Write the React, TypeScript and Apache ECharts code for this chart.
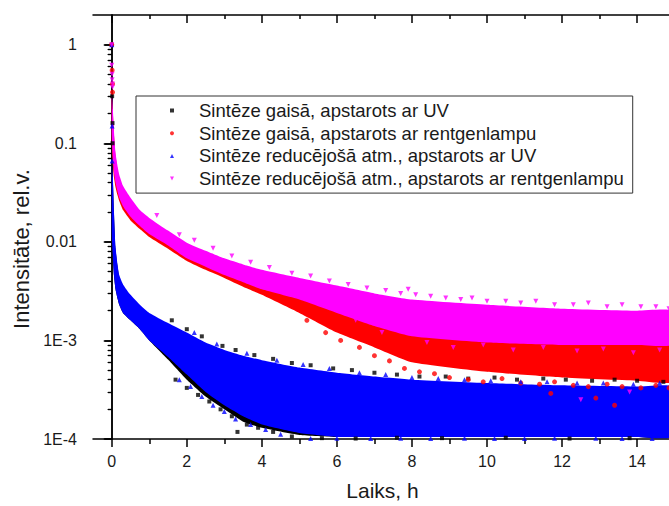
import React, { useEffect, useRef } from "react";
import * as echarts from "echarts";

const seriesNames = [
  "Sintēze gaisā, apstarots ar UV",
  "Sintēze gaisā, apstarots ar rentgenlampu",
  "Sintēze reducējošā atm., apstarots ar UV",
  "Sintēze reducējošā atm., apstarots ar rentgenlampu",
];

const xTicks = [0, 2, 4, 6, 8, 10, 12, 14];
const xMinorTicks = [1, 3, 5, 7, 9, 11, 13];
const yTicks = [1e-4, 1e-3, 1e-2, 1e-1, 1];
const yTickLabels = ["1E-4", "1E-3", "0.01", "0.1", "1"];
const yMinorTicks = [
  2e-4, 3e-4, 4e-4, 5e-4, 6e-4, 7e-4, 8e-4, 9e-4,
  2e-3, 3e-3, 4e-3, 5e-3, 6e-3, 7e-3, 8e-3, 9e-3,
  0.02, 0.03, 0.04, 0.05, 0.06, 0.07, 0.08, 0.09,
  0.2, 0.3, 0.4, 0.5, 0.6, 0.7, 0.8, 0.9,
];

// x positions (h) at which the dense core of each point cloud was read
const bandX = [0, 0.03, 0.06, 0.1, 0.15, 0.2, 0.3, 0.5, 0.75, 1, 1.5, 2, 2.5, 3, 3.5, 4, 5, 6, 7, 8, 10, 12, 14, 14.93];

// dense core of each cloud: lower / upper edge
const airUvLow = [0.012, 0.007, 0.0045, 0.0033, 0.0027, 0.0023, 0.0019, 0.0016, 0.0013, 0.001, 0.00064, 0.0004, 0.00027, 0.0002, 0.00015, 0.00013, 0.00011, 0.000105, 0.000105, 0.000105, 0.000105, 0.000105, 0.000105, 0.000105];
const airUvHigh = [0.055, 0.042, 0.019, 0.0085, 0.0058, 0.0044, 0.0035, 0.0028, 0.0022, 0.0018, 0.00145, 0.00116, 0.00092, 0.00078, 0.00068, 0.00061, 0.00051, 0.00045, 0.00041, 0.00039, 0.00035, 0.00034, 0.00033, 0.00033];

const airXrLow = [0.1, 0.06, 0.045, 0.036, 0.03, 0.026, 0.021, 0.0165, 0.0135, 0.0112, 0.0085, 0.0064, 0.0052, 0.0043, 0.0035, 0.0029, 0.0019, 0.0012, 0.00085, 0.0006, 0.00048, 0.00042, 0.00039, 0.00038];
const airXrHigh = [0.3, 0.2, 0.12, 0.075, 0.055, 0.045, 0.035, 0.026, 0.02, 0.0165, 0.0125, 0.0095, 0.0078, 0.0065, 0.0056, 0.005, 0.0041, 0.0033, 0.0028, 0.0024, 0.002, 0.0018, 0.0017, 0.0017];

const redUvLow = [0.012, 0.007, 0.0045, 0.0033, 0.0027, 0.0023, 0.0019, 0.0016, 0.0013, 0.001, 0.00068, 0.00045, 0.0003, 0.00022, 0.00017, 0.00014, 0.000115, 0.000105, 0.000105, 0.000105, 0.000105, 0.000105, 0.000105, 0.000105];
const redUvHigh = [0.06, 0.045, 0.02, 0.009, 0.006, 0.0046, 0.0037, 0.0029, 0.0023, 0.0019, 0.0015, 0.0012, 0.00095, 0.0008, 0.0007, 0.00063, 0.00053, 0.00047, 0.00043, 0.0004, 0.00037, 0.00035, 0.00034, 0.00034];

const redXrLow = [0.12, 0.07, 0.05, 0.04, 0.033, 0.028, 0.023, 0.018, 0.0145, 0.012, 0.0092, 0.0068, 0.0056, 0.0046, 0.0039, 0.0033, 0.0026, 0.0019, 0.0014, 0.0011, 0.00095, 0.0009, 0.0009, 0.0009];
const redXrHigh = [0.35, 0.22, 0.13, 0.08, 0.06, 0.048, 0.037, 0.028, 0.021, 0.0175, 0.013, 0.0098, 0.0081, 0.0068, 0.0059, 0.0052, 0.0043, 0.0036, 0.003, 0.0026, 0.0023, 0.0021, 0.002, 0.002];

// individual points outside the dense core
const airUvPoints = [
  [0, 1], [0.01, 0.3], [0.02, 0.16], [0.02, 0.1],
  [1.6, 0.0016], [2.0, 0.0013], [2.4, 0.0011], [2.95, 0.00088], [3.3, 0.0008], [3.8, 0.00071], [4.3, 0.00065],
  [4.8, 0.00059], [5.3, 0.00056], [5.9, 0.00052], [6.4, 0.0005], [7.0, 0.00047], [7.6, 0.00045], [8.2, 0.00043],
  [8.9, 0.00043], [9.5, 0.00041], [10.2, 0.00042], [10.8, 0.0004], [11.5, 0.00041], [12.1, 0.0004], [12.8, 0.00039],
  [13.4, 0.0004], [14.0, 0.00039], [14.7, 0.00038],
  [1.7, 0.0004], [2.0, 0.00033], [2.3, 0.00028], [2.6, 0.00024], [2.9, 0.0002], [3.2, 0.00017], [3.35, 0.000118],
  [3.6, 0.00014], [3.9, 0.00013], [4.3, 0.000118], [4.8, 0.000106], [5.6, 0.000102], [6.5, 0.000101], [7.6, 0.000103],
  [8.8, 0.000102], [10.5, 0.000103], [12.2, 0.000101], [13.8, 0.000102],
];
const airXrPoints = [
  [0, 1], [0.01, 0.55], [0.02, 0.4], [0.02, 0.33],
  [5.2, 0.0016], [5.7, 0.0012], [6.1, 0.001], [6.6, 0.00085], [7.0, 0.0007], [7.4, 0.00062], [7.8, 0.00052],
  [8.2, 0.00048], [8.6, 0.00046], [9.0, 0.00042], [9.5, 0.0004], [9.9, 0.00038], [10.4, 0.00041], [10.9, 0.00037],
  [11.4, 0.00036], [11.8, 0.00038], [12.3, 0.00035], [12.7, 0.00034], [13.2, 0.00036], [13.6, 0.00034], [14.1, 0.00033],
  [14.5, 0.00035], [14.85, 0.00033], [11.7, 0.00029], [12.9, 0.00026], [13.4, 0.00022],
];
const redUvPoints = [
  [0, 1], [0.01, 0.15], [0.01, 0.066],
  [2.2, 0.0012], [2.8, 0.00092], [3.6, 0.00074], [4.4, 0.00063], [5.1, 0.00057], [5.8, 0.00052], [6.6, 0.00047],
  [7.3, 0.00045], [8.0, 0.00042], [8.7, 0.00041], [9.4, 0.0004], [10.1, 0.00039], [10.9, 0.00038], [11.6, 0.00038],
  [12.4, 0.00037], [13.1, 0.00037], [13.9, 0.00036], [14.6, 0.00037],
  [1.8, 0.0004], [2.1, 0.00034], [2.4, 0.00027], [2.7, 0.00022], [3.0, 0.00019], [3.3, 0.00016], [3.7, 0.00014],
  [4.1, 0.000125], [4.5, 0.000112], [5.3, 0.000101], [6.0, 0.000102], [6.9, 0.000101], [7.7, 0.000102], [8.5, 0.000101],
  [9.4, 0.000102], [10.2, 0.000101], [11, 0.000101], [11.8, 0.000102], [12.9, 0.000102], [13.6, 0.000101], [14.4, 0.000101],
];
const redXrPoints = [
  [0, 1], [0, 0.62], [0.01, 0.5], [0.01, 0.44], [0.02, 0.4], [0.02, 0.37],
  [1.2, 0.0185], [1.8, 0.0118], [2.2, 0.0104], [2.7, 0.0086], [3.2, 0.0072], [3.7, 0.0062], [4.2, 0.0055], [4.8, 0.0048],
  [5.3, 0.0045], [5.8, 0.004], [6.3, 0.0037], [6.8, 0.0034], [7.3, 0.0032], [7.7, 0.003], [7.9, 0.0033], [8.1, 0.0029],
  [8.5, 0.0028], [8.9, 0.0027], [9.3, 0.0026], [9.6, 0.0027], [10.0, 0.0025], [10.5, 0.0025], [10.9, 0.0024],
  [11.3, 0.0025], [11.8, 0.0023], [12.3, 0.0023], [12.7, 0.0024], [13.2, 0.0022], [13.6, 0.0023], [14.1, 0.0022],
  [14.5, 0.0022], [14.85, 0.0021],
  [6.5, 0.0016], [7.2, 0.0012], [8.4, 0.00095], [9.1, 0.00085], [9.9, 0.0009], [10.7, 0.0008], [11.5, 0.00085],
  [12.4, 0.00078], [13.1, 0.00082], [13.9, 0.00075], [14.6, 0.0008], [12.5, 0.00025], [13.8, 0.0003],
];

const colors = ["#000000", "#ff0000", "#0000ff", "#ff00ff"];
const symbols = ["rect", "circle", "triangle", "path://M0,0L10,0L5,10Z"];
const lows = [airUvLow, airXrLow, redUvLow, redXrLow];
const highs = [airUvHigh, airXrHigh, redUvHigh, redXrHigh];
const points = [airUvPoints, airXrPoints, redUvPoints, redXrPoints];

const FONT = "'Liberation Sans', Arial, sans-serif";
const TEXT = "#1a1a1a";

function bandSeries(i: number) {
  const low = lows[i];
  const high = highs[i];
  return {
    type: "custom",
    name: seriesNames[i] + " (core)",
    xAxisIndex: 0,
    yAxisIndex: 0,
    clip: true,
    silent: true,
    data: bandX.map((x, k) => [x, low[k], high[k]]),
    encode: { x: 0, y: [1, 2] },
    renderItem: (params: any, api: any) => {
      if (params.dataIndex !== 0) return { type: "group", children: [] };
      const pts: number[][] = [];
      for (let k = 0; k < bandX.length; k++) pts.push(api.coord([bandX[k], high[k]]));
      for (let k = bandX.length - 1; k >= 0; k--) pts.push(api.coord([bandX[k], low[k]]));
      return { type: "polygon", shape: { points: pts, smooth: 0.15 }, style: { fill: colors[i] } };
    },
  };
}

function pointSeries(i: number) {
  return {
    type: "scatter",
    name: seriesNames[i],
    xAxisIndex: 0,
    yAxisIndex: 0,
    symbol: symbols[i],
    symbolSize: i === 0 ? 4 : 5,
    itemStyle: { color: colors[i] },
    data: points[i],
    clip: true,
  };
}

function yLabel(v: number) {
  for (let k = 0; k < yTicks.length; k++) {
    if (Math.abs(Math.log10(v) - Math.log10(yTicks[k])) < 0.01) return yTickLabels[k];
  }
  return "";
}

const axisLine = { show: true, lineStyle: { color: "#000", width: 1.5 } };

const option: any = {
  animation: false,
  backgroundColor: "#ffffff",
  grid: { left: 93, top: 15, right: 0, bottom: 64, containLabel: false },
  legend: {
    orient: "vertical",
    left: 136,
    top: 96,
    align: "left",
    itemWidth: 4,
    itemHeight: 4,
    itemGap: 0.7,
    padding: [3.5, 9, 3.5, 34],
    borderColor: "#333",
    borderWidth: 1,
    data: seriesNames.map((n, i) => ({ name: n, icon: symbols[i] })),
    textStyle: { fontFamily: FONT, fontSize: 18.5, color: TEXT, lineHeight: 22, padding: [0, 0, 0, 20] },
  },
  xAxis: [
    {
      type: "value", min: -0.5, max: 14.93, position: "bottom",
      axisLine,
      axisTick: { show: true, customValues: xTicks, length: 8, inside: false, lineStyle: { color: "#000", width: 1.5 } },
      axisLabel: { customValues: xTicks, fontFamily: FONT, fontSize: 16, color: TEXT, margin: 14 },
      splitLine: { show: false },
      name: "Laiks, h", nameLocation: "middle", nameGap: 41,
      nameTextStyle: { fontFamily: FONT, fontSize: 21, color: TEXT },
    },
    {
      type: "value", min: -0.5, max: 14.93, position: "bottom",
      axisLine: { show: false },
      axisTick: { show: true, customValues: xMinorTicks, length: 5, inside: false, lineStyle: { color: "#000", width: 1.5 } },
      axisLabel: { show: false }, splitLine: { show: false },
    },
    {
      type: "value", min: -0.5, max: 14.93, position: "top",
      axisLine,
      axisTick: { show: true, customValues: xTicks, length: 8, inside: true, lineStyle: { color: "#000", width: 1.5 } },
      axisLabel: { show: false }, splitLine: { show: false },
    },
    {
      type: "value", min: -0.5, max: 14.93, position: "top",
      axisLine: { show: false },
      axisTick: { show: true, customValues: xMinorTicks, length: 4, inside: true, lineStyle: { color: "#000", width: 1.5 } },
      axisLabel: { show: false }, splitLine: { show: false },
    },
  ],
  yAxis: [
    {
      type: "log", logBase: 10, min: 1e-4, max: 2, position: "left",
      axisLine,
      axisTick: { show: true, customValues: yTicks, length: 7, inside: false, lineStyle: { color: "#000", width: 1.5 } },
      axisLabel: { customValues: yTicks, formatter: yLabel, fontFamily: FONT, fontSize: 16, color: TEXT, margin: 16 },
      splitLine: { show: false },
      name: "Intensitāte, rel.v.", nameLocation: "middle", nameGap: 55, nameRotate: 90,
      nameTextStyle: { fontFamily: FONT, fontSize: 22, color: TEXT, padding: [0, 44, 0, 0] },
    },
    {
      type: "log", logBase: 10, min: 1e-4, max: 2, position: "left",
      axisLine: { show: false },
      axisTick: { show: true, customValues: yMinorTicks, length: 4, inside: false, lineStyle: { color: "#000", width: 1.2 } },
      axisLabel: { show: false }, splitLine: { show: false },
    },
    {
      type: "log", logBase: 10, min: 1e-4, max: 2, position: "right",
      axisLine,
      axisTick: { show: true, customValues: yTicks, length: 8, inside: true, lineStyle: { color: "#000", width: 1.5 } },
      axisLabel: { show: false }, splitLine: { show: false },
    },
    {
      type: "log", logBase: 10, min: 1e-4, max: 2, position: "right",
      axisLine: { show: false },
      axisTick: { show: true, customValues: yMinorTicks, length: 4, inside: true, lineStyle: { color: "#000", width: 1.2 } },
      axisLabel: { show: false }, splitLine: { show: false },
    },
  ],
  series: [
    bandSeries(0), pointSeries(0),
    bandSeries(1), pointSeries(1),
    bandSeries(2), pointSeries(2),
    bandSeries(3), pointSeries(3),
  ],
};

export default function App() {
  const ref = useRef<HTMLDivElement>(null);
  useEffect(() => {
    if (!ref.current) return;
    const chart = echarts.init(ref.current, null, { renderer: "svg" });
    chart.setOption(option);
    return () => chart.dispose();
  }, []);
  return (
    <div style={{ position: "fixed", left: 0, top: 0, width: 669, height: 506, overflow: "hidden", background: "#fff" }}>
      <div ref={ref} style={{ width: 672, height: 506 }} />
    </div>
  );
}
